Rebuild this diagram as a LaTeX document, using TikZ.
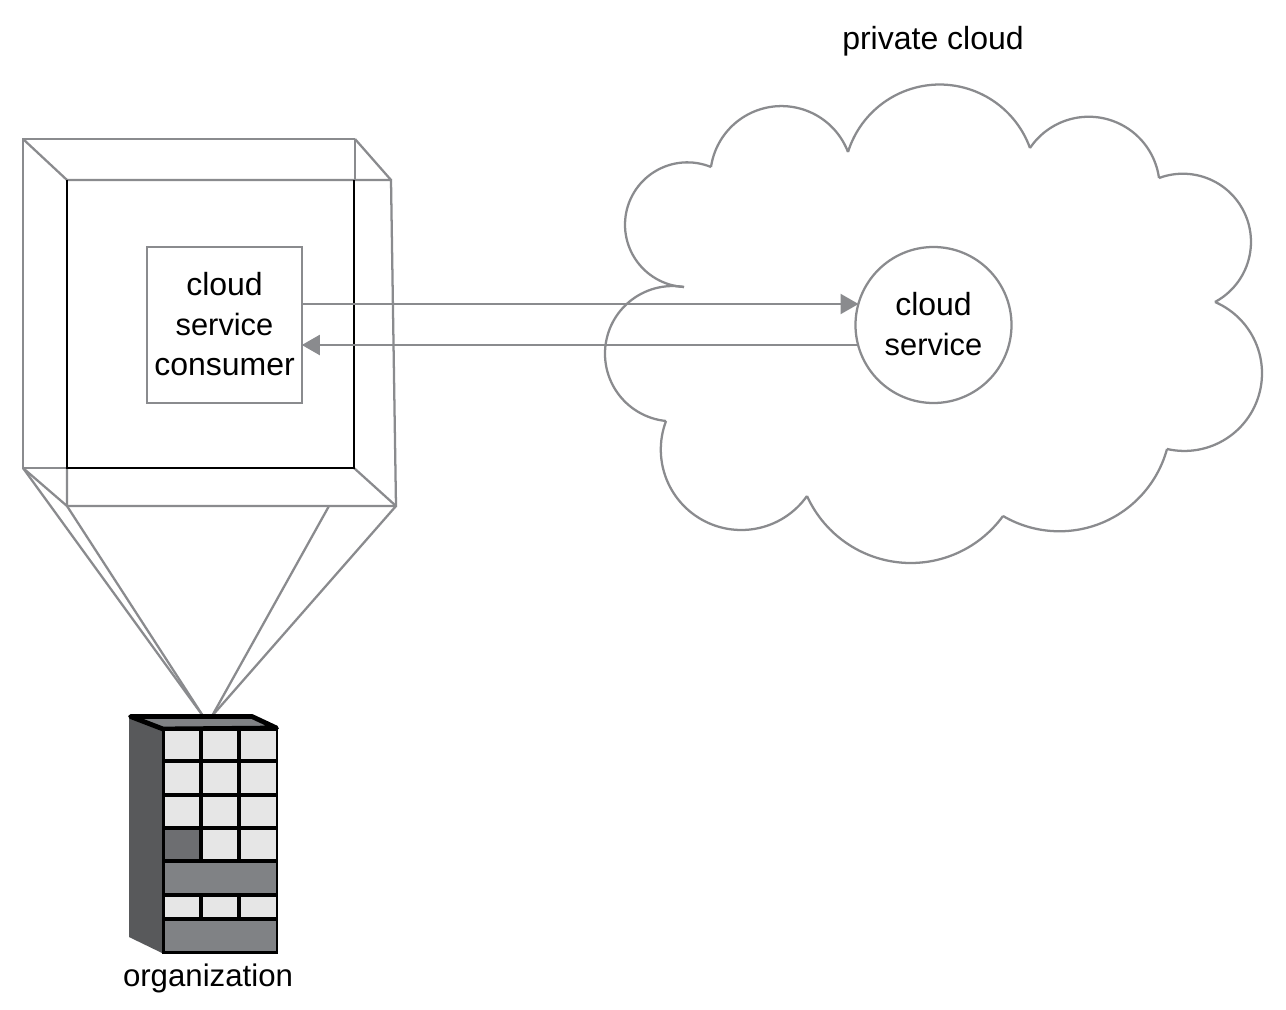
\documentclass[tikz,border=0pt]{standalone}
\usepackage{fontspec}
\setmainfont{Liberation Sans}
\usetikzlibrary{arrows.meta}
\definecolor{ln}{HTML}{8A8B8E}
\definecolor{wall}{HTML}{58595B}
\definecolor{band}{HTML}{808285}
\definecolor{pane}{HTML}{E6E6E6}
\definecolor{darkpane}{HTML}{6D6E71}
\newcommand\narrowword[1]{{\fontsize{23.1}{30}\selectfont #1}}
\tikzset{
  gl/.style={draw=ln,line width=1.7pt,line join=miter},
  blk/.style={draw=black,line width=1.5pt},
  txt/.style={font=\fontsize{24}{30}\selectfont,align=center,text=black,inner sep=0pt,outer sep=0pt},
  flow/.style={gl,-{Triangle[length=13.5pt,width=15pt,fill=ln]}},
  win/.style={fill=pane,draw=none},
}
\newcommand\lobe[6]{%
  \pgfmathsetmacro\bX{(#3-#1)/100}%
  \pgfmathsetmacro\bY{(#4-#2)/100}%
  \pgfmathsetmacro\cX{(#5-#1)/100}%
  \pgfmathsetmacro\cY{(#6-#2)/100}%
  \pgfmathsetmacro\dD{2*(\bX*\cY-\bY*\cX)}%
  \pgfmathsetmacro\uX{(\cY*(\bX*\bX+\bY*\bY)-\bY*(\cX*\cX+\cY*\cY))/\dD}%
  \pgfmathsetmacro\uY{(\bX*(\cX*\cX+\cY*\cY)-\cX*(\bX*\bX+\bY*\bY))/\dD}%
  \pgfmathsetmacro\lobeR{veclen(\uX,\uY)*100}%
  \pgfmathsetmacro\sA{atan2(-\uY,-\uX)}%
  \pgfmathsetmacro\eA{atan2(\cY-\uY,\cX-\uX)}%
  \pgfmathsetmacro\eB{\eA<\sA?\eA+360:\eA}%
  \pgfmathsetmacro\oX{#1+100*\uX}%
  \pgfmathsetmacro\oY{#2+100*\uY}%
  \draw[gl] plot[domain=\sA:\eB,samples=60,variable=\t,smooth] ({\oX+\lobeR*cos(\t)},{\oY+\lobeR*sin(\t)});%
}
\begin{document}
\begin{tikzpicture}[x=0.75pt,y=-0.75pt]
\useasboundingbox (0,0) rectangle (1286,1010);
\fill[white] (0,0) rectangle (1286,1010);

% frame around the consumer
\draw[gl] (355,139) -- (23,139) -- (23,468) -- (67,468);
\draw[gl] (23,139) -- (67,180) -- (391,180) -- (396,506) -- (67,506) -- (67,468);
\draw[gl] (355,139) -- (391,180);
\draw[gl] (355,139) -- (355,180);
\draw[gl] (23,468) -- (67,506);
\draw[gl] (354,468) -- (396,506);
\draw[blk] (67,180) -- (67,468) -- (354,468) -- (354,180);

% projection lines
\coordinate (topL) at (203,716);
\coordinate (topR) at (212,716);
\draw[gl] (23,468) -- (topL);
\draw[gl] (67,506) -- (topL);
\draw[gl] (329,506) -- (topR);
\draw[gl] (396,506) -- (topR);

% building
\fill[wall] (129,716) -- (162,729) -- (162,953) -- (129,937) -- cycle;
\fill[black] (161.5,727) rectangle (278,954);
\filldraw[fill=band,draw=black,line width=3.6pt,line join=round] (130.5,716.5) -- (252,716.5) -- (276.5,728) -- (163,729) -- cycle;
\foreach \ya/\yb in {731/759,763/793,797/826,830/859}{
  \fill[win] (165,\ya) rectangle (199,\yb);
  \fill[win] (203,\ya) rectangle (237,\yb);
  \fill[win] (241,\ya) rectangle (276,\yb);
}
\fill[darkpane] (165,830) rectangle (199,859);
\fill[band] (165,863) rectangle (276,893);
\fill[win] (165,897) rectangle (199,917);
\fill[win] (203,897) rectangle (237,917);
\fill[win] (241,897) rectangle (276,917);
\fill[band] (165,921) rectangle (276,951);

% cloud
\lobe{684}{287}{625}{225}{711}{167}
\lobe{711}{167}{770}{107}{848}{152}
\lobe{848}{152}{930}{85}{1030}{148}
\lobe{1030}{148}{1095}{117}{1159}{178}
\lobe{1159}{178}{1251}{242}{1215}{302}
\lobe{1215}{302}{1262}{372}{1167}{449}
\lobe{1167}{449}{1090}{527}{1003}{516}
\lobe{1003}{516}{912}{563}{807}{496}
\lobe{807}{496}{740}{530}{666}{421}
\lobe{666}{421}{605}{355}{684}{287}

% nodes
\node[gl,minimum width=116pt,minimum height=117pt,inner sep=0pt,outer sep=0pt] (consumer) at (224.5,325) {};
\node[gl,circle,minimum size=117pt,inner sep=0pt,outer sep=0pt] (service) at (933.5,325) {};
\node[txt] (consumertext) at (224.5,324) {cloud\\\narrowword{service}\\consumer};
\node[txt] (servicetext) at (933.5,324) {cloud\\\narrowword{service}};
\node[txt] (cloudlabel) at (933,41) {private cloud};
\node[txt] (orglabel) at (208,978) {\fontsize{23.4}{30}\selectfont organization};

% connectors
\coordinate (outA) at ([yshift=15.75pt]consumer.east);
\coordinate (backA) at ([yshift=-15pt]consumer.east);
\draw[flow] (outA) -- (outA -| service.164);
\draw[flow] (backA -| service.196) -- (backA);
\end{tikzpicture}
\end{document}
